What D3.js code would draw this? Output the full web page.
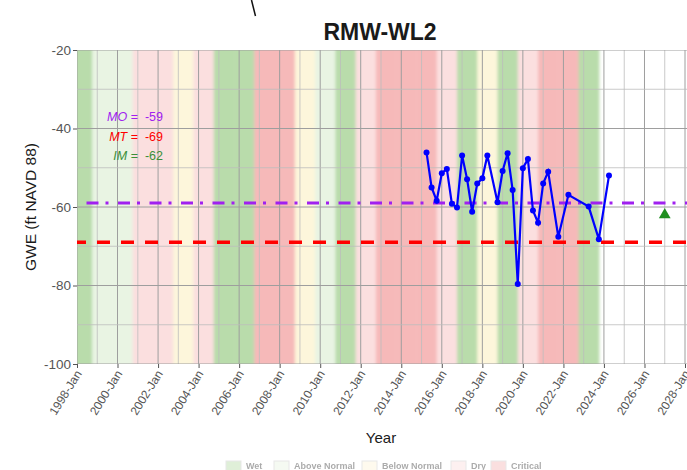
<!DOCTYPE html>
<html>
<head>
<meta charset="utf-8">
<script src="https://cdn.jsdelivr.net/npm/d3@7"></script>
<style>
body { margin: 0; background: #fff; }
svg { display: block; font-family: "Liberation Sans", Arial, sans-serif; }
</style>
</head>
<body>
<div id="chart"></div>
<script>
// measured groundwater elevations (ft NAVD 88)
const sampleDates = ['2015-04-01','2015-07-01','2015-10-01','2016-01-01','2016-04-01','2016-07-01','2016-10-01',
  '2017-01-01','2017-04-01','2017-07-01','2017-10-01','2018-01-01','2018-04-01','2018-10-01','2019-01-01',
  '2019-04-01','2019-07-01','2019-10-01','2020-01-01','2020-04-01','2020-07-01','2020-10-01','2021-01-01',
  '2021-04-01','2021-10-01','2022-04-01','2023-04-01','2023-10-01','2024-04-01'];
const gweValues = [-46.1,-55.0,-58.4,-51.4,-50.3,-59.2,-60.1,-46.9,-52.9,-61.2,-54.0,-52.7,-46.9,-58.8,-50.8,
  -46.3,-55.7,-79.6,-50.1,-47.8,-60.9,-64.0,-54.0,-51.0,-67.6,-56.9,-59.9,-68.2,-52.0];

// water year classification, 1998..2023
const waterYears = d3.range(1998, 2024);
const yearTypes = ['W','AN','AN','D','D','BN','D','W','W','C','C','BN','AN','W','D','C','C','C','D','W','BN','W','D','C','C','W'];
const typeKeys = ['W','AN','BN','D','C'];
const typeNames = ['Wet','Above Normal','Below Normal','Dry','Critical'];
const typeColors = ['#b9dcab','#e9f4e3','#fdf6db','#fbdfdf','#f6b9b9'];

const thresholdLabels = ['MO','MT','IM'];
const thresholdValues = [-59, -69, -62];
const thresholdColors = ['#a020f0','#ff0000','#3a8f3a'];
const imDate = '2027-01-01';

const yTicks = [-20,-40,-60,-80,-100];
const yMinor = [-30,-50,-70,-90];

const W = 687, H = 470;
const parse = d3.timeParse('%Y-%m-%d');
const svg = d3.select('#chart').append('svg').attr('width', W).attr('height', H);

const x = d3.scaleTime().domain([new Date(1998,0,1), new Date(2028,0,1)]).range([77, 685]);
const y = d3.scaleLinear().domain([-100,-20]).range([364, 50]);
const typeColor = d3.scaleOrdinal().domain(typeKeys).range(typeColors);
const panel = {left: 77, right: 687, top: 50, bottom: 364};

const defs = svg.append('defs');
defs.append('clipPath').attr('id','clip').append('rect')
  .attr('x', panel.left).attr('y', panel.top)
  .attr('width', panel.right - panel.left).attr('height', panel.bottom - panel.top);
defs.append('filter').attr('id','soft').attr('x','-5%').attr('width','110%')
  .append('feGaussianBlur').attr('stdDeviation', 1.6);
defs.append('filter').attr('id','fade')
  .append('feGaussianBlur').attr('stdDeviation', 0.7);

const plot = svg.append('g').attr('clip-path','url(#clip)');

// water year bands (Oct 1 - Sep 30)
plot.append('g').attr('filter','url(#soft)')
  .selectAll('rect').data(waterYears).join('rect')
  .attr('x', d => x(new Date(d - 1, 9, 1)))
  .attr('width', d => x(new Date(d, 9, 1)) - x(new Date(d - 1, 9, 1)) + 0.5)
  .attr('y', panel.top - 10).attr('height', panel.bottom - panel.top + 20)
  .attr('fill', (d, i) => typeColor(yearTypes[i]));

// grid
const years = d3.range(1998, 2029);
plot.append('g').selectAll('line').data(years).join('line')
  .attr('x1', d => x(new Date(d,0,1))).attr('x2', d => x(new Date(d,0,1)))
  .attr('y1', panel.top).attr('y2', panel.bottom)
  .attr('stroke', d => d % 2 === 0 ? '#9e9e9e' : '#bdbdbd')
  .attr('stroke-width', d => d % 2 === 0 ? 1 : 0.8);
plot.append('g').selectAll('line').data(yMinor).join('line')
  .attr('x1', panel.left).attr('x2', panel.right)
  .attr('y1', d => y(d)).attr('y2', d => y(d))
  .attr('stroke', '#bdbdbd').attr('stroke-width', 0.8);
plot.append('g').selectAll('line').data(yTicks).join('line')
  .attr('x1', panel.left).attr('x2', panel.right)
  .attr('y1', d => y(d)).attr('y2', d => y(d))
  .attr('stroke', '#9e9e9e').attr('stroke-width', 1);

// MO / MT lines
plot.append('line')
  .attr('x1', panel.left).attr('x2', panel.right)
  .attr('y1', y(thresholdValues[0])).attr('y2', y(thresholdValues[0]))
  .attr('stroke', thresholdColors[0]).attr('stroke-width', 3)
  .attr('stroke-dasharray', '12,7,3,9.5').attr('stroke-dashoffset', 22);
plot.append('line')
  .attr('x1', panel.left).attr('x2', panel.right)
  .attr('y1', y(thresholdValues[1])).attr('y2', y(thresholdValues[1]))
  .attr('stroke', thresholdColors[1]).attr('stroke-width', 3.5)
  .attr('stroke-dasharray', '13,11').attr('stroke-dashoffset', 4);

// series
const pts = sampleDates.map((d, i) => ({date: parse(d), v: gweValues[i]}));
plot.append('path').datum(pts)
  .attr('fill', 'none').attr('stroke', '#0000ff').attr('stroke-width', 2.2)
  .attr('d', d3.line().x(d => x(d.date)).y(d => y(d.v)));
plot.append('g').selectAll('circle').data(pts).join('circle')
  .attr('cx', d => x(d.date)).attr('cy', d => y(d.v)).attr('r', 3)
  .attr('fill', '#0000ff');

// IM triangle
plot.append('path')
  .attr('d', d3.symbol(d3.symbolTriangle, 60)())
  .attr('transform', `translate(${x(parse(imDate))},${y(thresholdValues[2])})`)
  .attr('fill', '#1f8f1f');

// threshold labels
const ann = svg.append('g').attr('font-size', 12.5).attr('text-anchor', 'end');
thresholdLabels.forEach((lab, i) => {
  const t = ann.append('text').attr('x', 163).attr('y', 121 + i * 19.5)
    .attr('fill', thresholdColors[i]).attr('xml:space', 'preserve');
  t.append('tspan').attr('font-style', 'italic').text(lab);
  t.append('tspan').text(' =  ' + thresholdValues[i]);
});

// y axis
const yAxis = svg.append('g').attr('transform', `translate(${panel.left},0)`)
  .call(d3.axisLeft(y).tickValues(yTicks).tickSize(4).tickPadding(2).tickFormat(d => String(d)));
yAxis.select('.domain').remove();
yAxis.selectAll('line').attr('stroke', '#555');
yAxis.selectAll('text').attr('font-size', 13.5).attr('fill', '#555')
  .attr('font-family', '"Liberation Sans", Arial, sans-serif');

// x axis
const xTicks = d3.range(1998, 2029, 2).map(yr => new Date(yr, 0, 1));
const xAxis = svg.append('g').attr('transform', `translate(0,${panel.bottom})`)
  .call(d3.axisBottom(x).tickValues(xTicks).tickSize(4).tickFormat(d3.timeFormat('%Y-%b')));
xAxis.select('.domain').remove();
xAxis.selectAll('line').attr('stroke', '#555');
xAxis.selectAll('text')
  .attr('font-size', 12).attr('fill', '#555')
  .attr('font-family', '"Liberation Sans", Arial, sans-serif')
  .attr('text-anchor', 'end').attr('dy', null).attr('y', 0)
  .attr('transform', 'translate(2,8) rotate(-58)')
  .attr('dominant-baseline', 'middle');

// titles
svg.append('text').attr('x', 380).attr('y', 40).attr('text-anchor', 'middle')
  .attr('font-size', 23).attr('font-weight', 'bold').attr('fill', '#1a1a1a').text('RMW-WL2');
svg.append('text').attr('x', 381).attr('y', 443).attr('text-anchor', 'middle')
  .attr('font-size', 15).attr('fill', '#1a1a1a').text('Year');
svg.append('text').attr('transform', 'translate(36,207) rotate(-90)').attr('text-anchor', 'middle')
  .attr('font-size', 15.5).attr('fill', '#1a1a1a').text('GWE (ft NAVD 88)');

// stray mark at top
svg.append('line').attr('x1', 251.5).attr('y1', 0).attr('x2', 255.5).attr('y2', 16)
  .attr('stroke', '#111').attr('stroke-width', 1.5);

// legend (faded, near the bottom edge)
const legendX = [226, 274, 362, 451, 491];
const legend = svg.append('g').attr('opacity', 0.45).attr('filter', 'url(#fade)');
typeKeys.forEach((k, i) => {
  legend.append('rect').attr('x', legendX[i]).attr('y', 461).attr('width', 15).attr('height', 15)
    .attr('fill', typeColors[i]).attr('stroke', '#ccc');
  legend.append('text').attr('x', legendX[i] + 20).attr('y', 469)
    .attr('font-size', 9).attr('font-weight', 'bold').attr('fill', '#444').text(typeNames[i]);
});
</script>
</body>
</html>
